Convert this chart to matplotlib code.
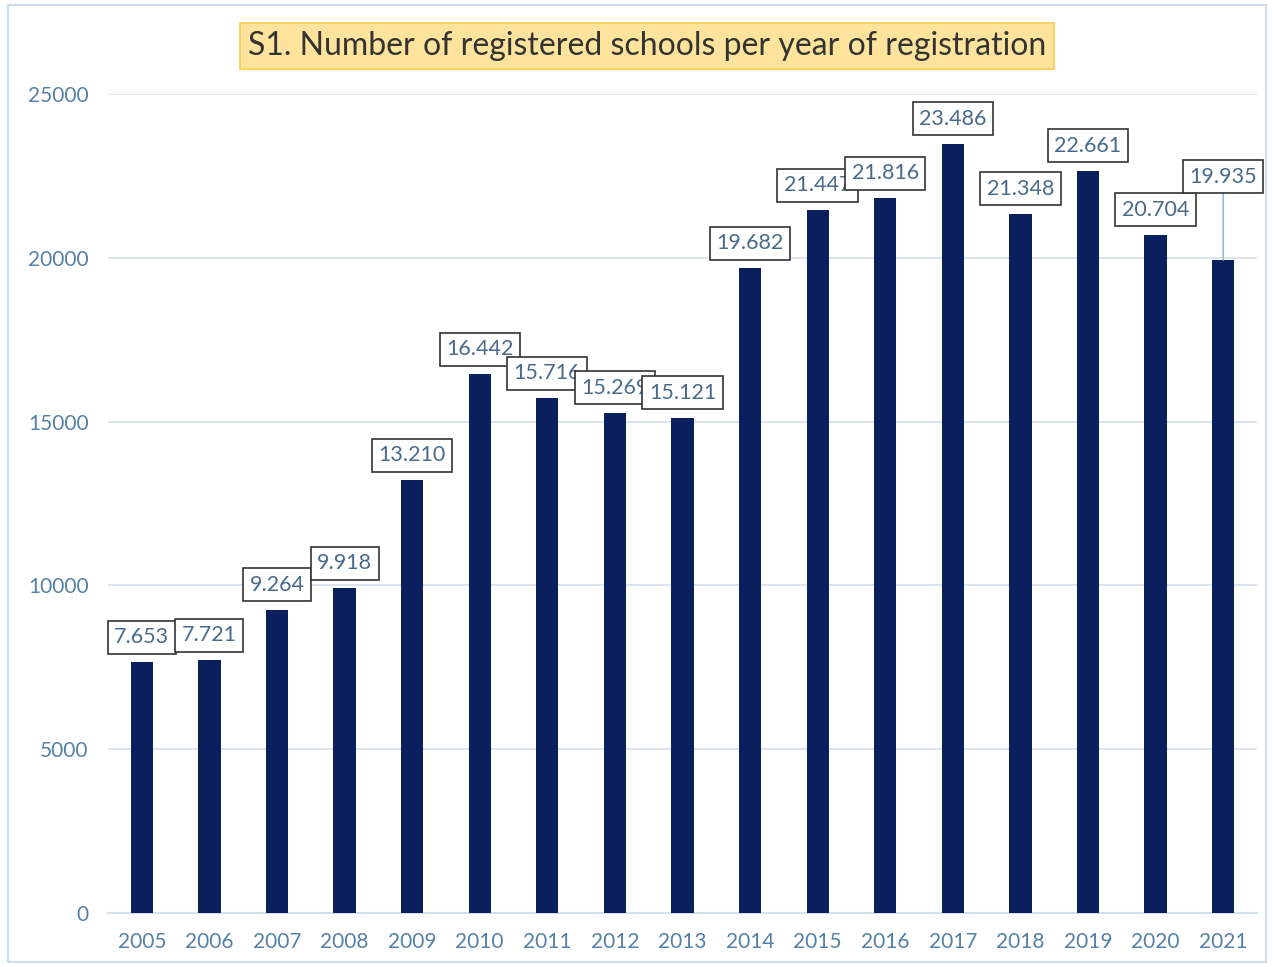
import matplotlib
matplotlib.use("Agg")
import matplotlib.pyplot as plt
from matplotlib.patches import Rectangle

years = ["2005", "2006", "2007", "2008", "2009", "2010", "2011", "2012", "2013",
         "2014", "2015", "2016", "2017", "2018", "2019", "2020", "2021"]
schools = [7653, 7721, 9264, 9918, 13210, 16442, 15716, 15269, 15121,
           19682, 21447, 21816, 23486, 21348, 22661, 20704, 19935]
yticks = [0, 5000, 10000, 15000, 20000, 25000]
title = "S1. Number of registered schools per year of registration"

plt.rcParams['font.family'] = ['Lato', 'DejaVu Sans']

fig = plt.figure(figsize=(12.74, 9.67), dpi=100)
ax = fig.add_axes([108/1274, 1-913/967, (1257-108)/1274, (913-94)/967])

tick_color = '#5580a8'
bar_color = '#0a1f5e'
grid_color = '#d6e0ea'

x = list(range(len(years)))
ax.bar(x, schools, width=0.33, color=bar_color, zorder=3)
ax.set_xlim(-0.5, len(years) - 0.5)
ax.set_ylim(0, 25000)
ax.set_yticks(yticks)
ax.set_yticklabels([str(v) for v in yticks])
ax.set_xticks(x)
ax.set_xticklabels(years)
ax.tick_params(axis='both', length=0, colors=tick_color, labelsize=15)
ax.tick_params(axis='y', pad=14)
ax.tick_params(axis='x', pad=14)
ax.grid(axis='y', color=grid_color, linewidth=1.2, zorder=0)
for s in ['top', 'right', 'left']:
    ax.spines[s].set_visible(False)
ax.spines['bottom'].set_color(grid_color)
ax.spines['bottom'].set_linewidth(1.5)

def fmt(v):
    return f"{v:,}".replace(",", ".")

box = dict(boxstyle='square,pad=0.3', fc='white', ec='#333333', lw=1.2)
for i, v in enumerate(schools):
    if i == len(schools) - 1:
        ax.annotate(fmt(v), xy=(i, v), xytext=(0, 60), textcoords='offset points',
                    ha='center', va='center', fontsize=15.5, color='#4a6a8c', bbox=box,
                    arrowprops=dict(arrowstyle='-', color='#9bb8d3', lw=1.2,
                                    shrinkA=0, shrinkB=0), zorder=5)
    else:
        ax.annotate(fmt(v), xy=(i, v), xytext=(0, 18), textcoords='offset points',
                    ha='center', va='center', fontsize=15.5, color='#4a6a8c', bbox=box,
                    zorder=5)

fig.text(647/1274, 1-46/967, title, ha='center', va='center', fontsize=23,
         color='#333333',
         bbox=dict(boxstyle='square,pad=0.25', fc='#fde39b', ec='#f6cd55', lw=1.2))

fig.patches.append(Rectangle((8/1274, 0.005), 1-16/1274, 0.99, transform=fig.transFigure,
                             fill=False, ec='#d0dcea', lw=1.5))

fig.savefig("out.png", dpi=100)
